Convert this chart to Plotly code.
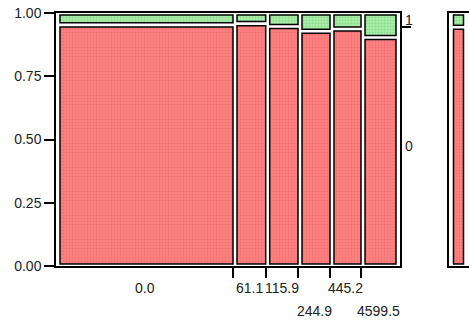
import numpy as np
import plotly.graph_objects as go

# column shares (x widths) and share of response "1" within each column
col_labels = ["0.0", "61.1", "115.9", "244.9", "445.2", "4599.5"]
label_row = [0, 0, 0, 1, 0, 1]
col_share = [0.5206, 0.0962, 0.0950, 0.0941, 0.0912, 0.1029]
p_one = [0.047, 0.042, 0.053, 0.072, 0.063, 0.097]
left_ticks = [0, 0.25, 0.5, 0.75, 1.0]
right_labels = ["1", "0"]

RED, RED_DOT = "#ff8080", "#e06a6a"
GREEN, GREEN_DOT = "#aaeeaa", "#70c870"
FONT = dict(family="Liberation Sans, Arial, sans-serif", size=14, color="#222")

w = np.array(col_share)
p1 = np.array(p_one)
left = np.concatenate([[0], np.cumsum(w)[:-1]])
right = left + w
p_all = float((w * p1).sum() / w.sum())

gx = 0.0118   # horizontal gap between cells (data units)
gy = 0.008    # vertical gap between cells

bar_x = (left + gx + right) / 2
bar_w = right - left - gx


def pat(dot):
    return dict(shape=".", fgcolor=dot, size=3, solidity=0.4)


fig = go.Figure()
fig.add_trace(go.Bar(
    x=bar_x, width=bar_w, base=gy, y=1 - p1 - 2 * gy,
    marker=dict(color=RED, pattern=pat(RED_DOT), line=dict(color="black", width=1.5)),
    hoverinfo="skip",
))
# green cells live on the right-hand axis (same 0..1 scale) so it gets drawn
fig.add_trace(go.Bar(
    x=bar_x, width=bar_w, base=1 - p1 + gy, y=p1 - 2 * gy, yaxis="y2",
    marker=dict(color=GREEN, pattern=pat(GREEN_DOT), line=dict(color="black", width=1.5)),
    hoverinfo="skip",
))
# overall proportions panel
fig.add_trace(go.Bar(
    x=[0.475], width=[0.5], base=gy, y=[1 - p_all - 2 * gy],
    xaxis="x2", yaxis="y4",
    marker=dict(color=RED, pattern=pat(RED_DOT), line=dict(color="black", width=1.5)),
    hoverinfo="skip",
))
fig.add_trace(go.Bar(
    x=[0.475], width=[0.5], base=1 - p_all + gy, y=[p_all - 2 * gy],
    xaxis="x2", yaxis="y4",
    marker=dict(color=GREEN, pattern=pat(GREEN_DOT), line=dict(color="black", width=1.5)),
    hoverinfo="skip",
))

annotations = []
for lab, row, l, r in zip(col_labels, label_row, left, right):
    annotations.append(dict(
        text=lab, x=(l + r) / 2, xref="x", y=0, yref="paper",
        yanchor="top", yshift=-12 - 23 * row, showarrow=False, font=FONT,
    ))

axis_line = dict(showline=True, linecolor="black", linewidth=1.5)
fig.update_layout(
    width=469, height=322,
    margin=dict(l=56, r=0, t=13, b=56),
    paper_bgcolor="white", plot_bgcolor="white",
    showlegend=False, barmode="overlay",
    font=FONT,
    xaxis=dict(domain=[0, 344 / 413], range=[0, 1.0118], **axis_line, mirror=True,
               tickvals=list(right[:-1]), showticklabels=False,
               ticks="outside", ticklen=10, tickwidth=1.5, tickcolor="black",
               showgrid=False, zeroline=False, fixedrange=True),
    yaxis=dict(range=[0, 1], **axis_line, mirror=True,
               tickvals=left_ticks, tickformat=".2f", tickfont=FONT,
               ticks="outside", ticklen=10, tickwidth=1.5, tickcolor="black",
               showgrid=False, zeroline=False, fixedrange=True),
    yaxis2=dict(range=[0, 1], overlaying="y", anchor="x", side="right",
                tickvals=[1 - p_all / 2, (1 - p_all) / 2], ticktext=right_labels,
                tickfont=FONT, ticks="", ticklabelstandoff=4,
                minor=dict(tickvals=[1 - p_all], ticks="outside", ticklen=10,
                           tickwidth=1.5, tickcolor="black", showgrid=False),
                showgrid=False, zeroline=False, showline=False, fixedrange=True),
    xaxis2=dict(domain=[393 / 413, 1], range=[0, 1], anchor="y4", **axis_line, mirror=True,
                showticklabels=False, ticks="", showgrid=False, zeroline=False),
    yaxis4=dict(range=[0, 1], anchor="x2", **axis_line, mirror=False,
                showticklabels=False, ticks="", showgrid=False, zeroline=False),
    annotations=annotations,
)

# the page's default body margin would offset the figure
fig.write_html("out.html", config={"displayModeBar": False},
               post_script="document.body.style.margin='0';")
